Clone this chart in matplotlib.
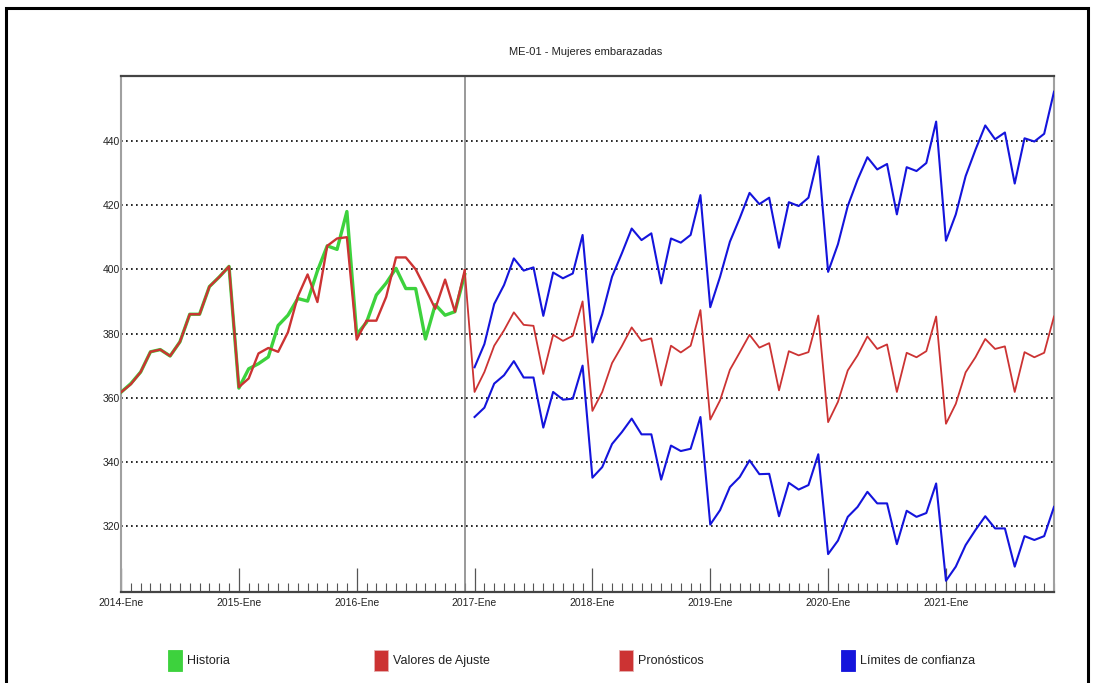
import matplotlib
matplotlib.use("Agg")
import matplotlib.pyplot as plt
from matplotlib.patches import Rectangle
from matplotlib.ticker import FixedLocator, MultipleLocator

NARROW = ['Liberation Sans Narrow', 'Liberation Sans', 'DejaVu Sans']
plt.rcParams['font.family'] = NARROW
plt.rcParams['font.stretch'] = 'condensed'

title = "ME-01 - Mujeres embarazadas"

# month index 0 = 2014-Ene ... 95 = 2021-Dic
year_labels = ["2014-Ene", "2015-Ene", "2016-Ene", "2017-Ene",
               "2018-Ene", "2019-Ene", "2020-Ene", "2021-Ene"]

historia = [361.7, 364.4, 368.0, 374.3, 375.0, 373.0, 377.4, 386.0, 386.0, 394.6, 397.6, 400.9,
            363.0, 369.0, 370.6, 372.7, 382.5, 385.7, 390.9, 390.1, 399.5, 407.3, 406.2, 418.0,
            379.7, 383.5, 392.0, 395.7, 400.3, 394.0, 394.0, 378.3, 389.0, 385.7, 386.8, 398.4]

ajuste = [361.7, 364.2, 368.0, 374.3, 375.0, 373.0, 377.4, 386.0, 386.0, 394.6, 397.6, 400.9,
          363.3, 366.0, 373.8, 375.5, 374.3, 380.4, 391.5, 398.4, 389.8, 407.3, 409.6, 410.0,
          378.1, 384.0, 384.0, 391.4, 403.7, 403.7, 400.0, 394.0, 387.7, 396.8, 386.8, 399.7]

pronosticos = [361.8, 368.0, 376.2, 381.0, 386.6, 382.7, 382.4, 367.4, 379.6, 377.7, 379.3, 390.0,
               355.9, 361.8, 370.8, 376.1, 381.9, 377.7, 378.5, 363.8, 376.2, 374.1, 376.2, 387.3,
               353.2, 359.2, 368.7, 374.1, 379.6, 375.6, 377.0, 362.3, 374.5, 373.2, 374.2, 385.6,
               352.4, 358.7, 368.5, 373.2, 379.1, 375.2, 376.6, 361.8, 374.0, 372.6, 374.5, 385.3,
               351.9, 358.1, 367.9, 372.6, 378.3, 375.2, 376.0, 361.8, 374.2, 372.6, 374.0, 385.3]

limite_sup = [369.5, 376.7, 389.2, 395.1, 403.4, 399.6, 400.6, 385.5, 399.0, 397.2, 398.7, 410.7,
              377.2, 386.0, 397.7, 405.0, 412.7, 409.1, 411.2, 395.6, 409.6, 408.3, 410.7, 423.1,
              388.2, 397.7, 408.6, 415.9, 423.8, 420.3, 422.3, 406.7, 420.9, 419.7, 422.3, 435.2,
              399.2, 407.8, 419.7, 427.9, 434.9, 431.1, 432.8, 417.1, 431.8, 430.6, 433.1, 446.0,
              408.9, 417.1, 429.0, 437.2, 444.8, 440.5, 442.6, 426.7, 440.8, 439.8, 442.2, 455.3]

limite_inf = [354.0, 356.9, 364.4, 367.0, 371.4, 366.3, 366.3, 350.7, 361.8, 359.4, 359.7, 370.0,
              335.1, 338.4, 345.6, 349.3, 353.5, 348.6, 348.6, 334.5, 345.1, 343.4, 344.1, 354.0,
              320.5, 325.0, 332.2, 335.3, 340.5, 336.2, 336.3, 323.1, 333.5, 331.4, 332.8, 342.4,
              311.3, 315.5, 322.9, 326.0, 330.7, 327.1, 327.1, 314.4, 324.8, 322.9, 324.1, 333.3,
              303.0, 307.4, 314.1, 318.8, 323.1, 319.3, 319.3, 307.4, 316.9, 315.7, 316.9, 326.0]

legend_labels = ["Historia", "Valores de Ajuste", "Pronósticos", "Límites de confianza"]

GREEN = "#3dd23d"
RED = "#cc3333"
BLUE = "#1414dc"

W, H = 1094, 683
fig = plt.figure(figsize=(W / 100, H / 100), dpi=100)
fig.patch.set_facecolor("white")
ax = fig.add_axes([121 / W, 1 - 592 / H, (1054 - 121) / W, (592 - 76) / H])

n_hist = len(historia)
x_hist = list(range(n_hist))
x_fc = list(range(n_hist, n_hist + len(pronosticos)))

ax.plot(x_hist, historia, color=GREEN, lw=2.4, solid_joinstyle='round', zorder=3)
ax.plot(x_hist, ajuste, color=RED, lw=1.7, solid_joinstyle='round', zorder=4)
ax.plot([x_hist[-1]] + x_fc, [ajuste[-1]] + pronosticos, color=RED, lw=1.3, zorder=4)
ax.plot(x_fc, limite_sup, color=BLUE, lw=1.5, zorder=4)
ax.plot(x_fc, limite_inf, color=BLUE, lw=1.5, zorder=4)

ax.axvline(x_hist[-1], color="#888888", lw=1.2, zorder=2)

ax.set_xlim(0, n_hist + len(pronosticos) - 1)
ax.set_ylim(299.5, 460.2)

yt = [320, 340, 360, 380, 400, 420, 440]
ax.set_yticks(yt)
ax.set_yticklabels([str(v) for v in yt])
for v in yt:
    ax.axhline(v, color="black", lw=1.2, ls=(0, (1, 2)), zorder=1)

ax.xaxis.set_major_locator(FixedLocator([12 * i for i in range(len(year_labels))]))
ax.set_xticklabels(year_labels)
ax.xaxis.set_minor_locator(MultipleLocator(1))
ax.tick_params(axis='x', which='major', direction='in', length=17, width=0.9,
               color="#555555", pad=4, labelsize=7.5)
ax.tick_params(axis='x', which='minor', direction='in', length=6.5, width=0.8,
               color="#555555")
ax.tick_params(axis='y', which='both', length=0, pad=0.5, labelsize=7.5)
for lab in ax.get_xticklabels() + ax.get_yticklabels():
    lab.set_color("#222222")

for s in ["left", "right"]:
    ax.spines[s].set_color("#a0a0a0")
    ax.spines[s].set_linewidth(1.5)
ax.spines["top"].set_color("#444444")
ax.spines["top"].set_linewidth(1.6)
ax.spines["bottom"].set_color("#444444")
ax.spines["bottom"].set_linewidth(1.6)

fig.text(586 / W, 1 - 52 / H, title, ha="center", va="center", fontsize=8, color="#222222")

# legend
leg_x = [168, 374, 619, 841]
leg_c = [GREEN, RED, RED, BLUE]
for lx, lc, lt in zip(leg_x, leg_c, legend_labels):
    fig.add_artist(Rectangle((lx / W, 1 - 671 / H), 14 / W, 21 / H,
                             transform=fig.transFigure, facecolor=lc,
                             edgecolor="#e6b0b0" if lc == RED else lc, lw=0.6))
    fig.text((lx + 19) / W, 1 - 661 / H, lt, ha="left", va="center", fontsize=9,
             color="#222222")

# outer frame
fig.add_artist(Rectangle((6 / W, 1 - 700 / H), (1088 - 6) / W, (700 - 8) / H,
                         transform=fig.transFigure, fill=False, edgecolor="black", lw=2.2))

fig.savefig("out.png", dpi=100, facecolor="white")
